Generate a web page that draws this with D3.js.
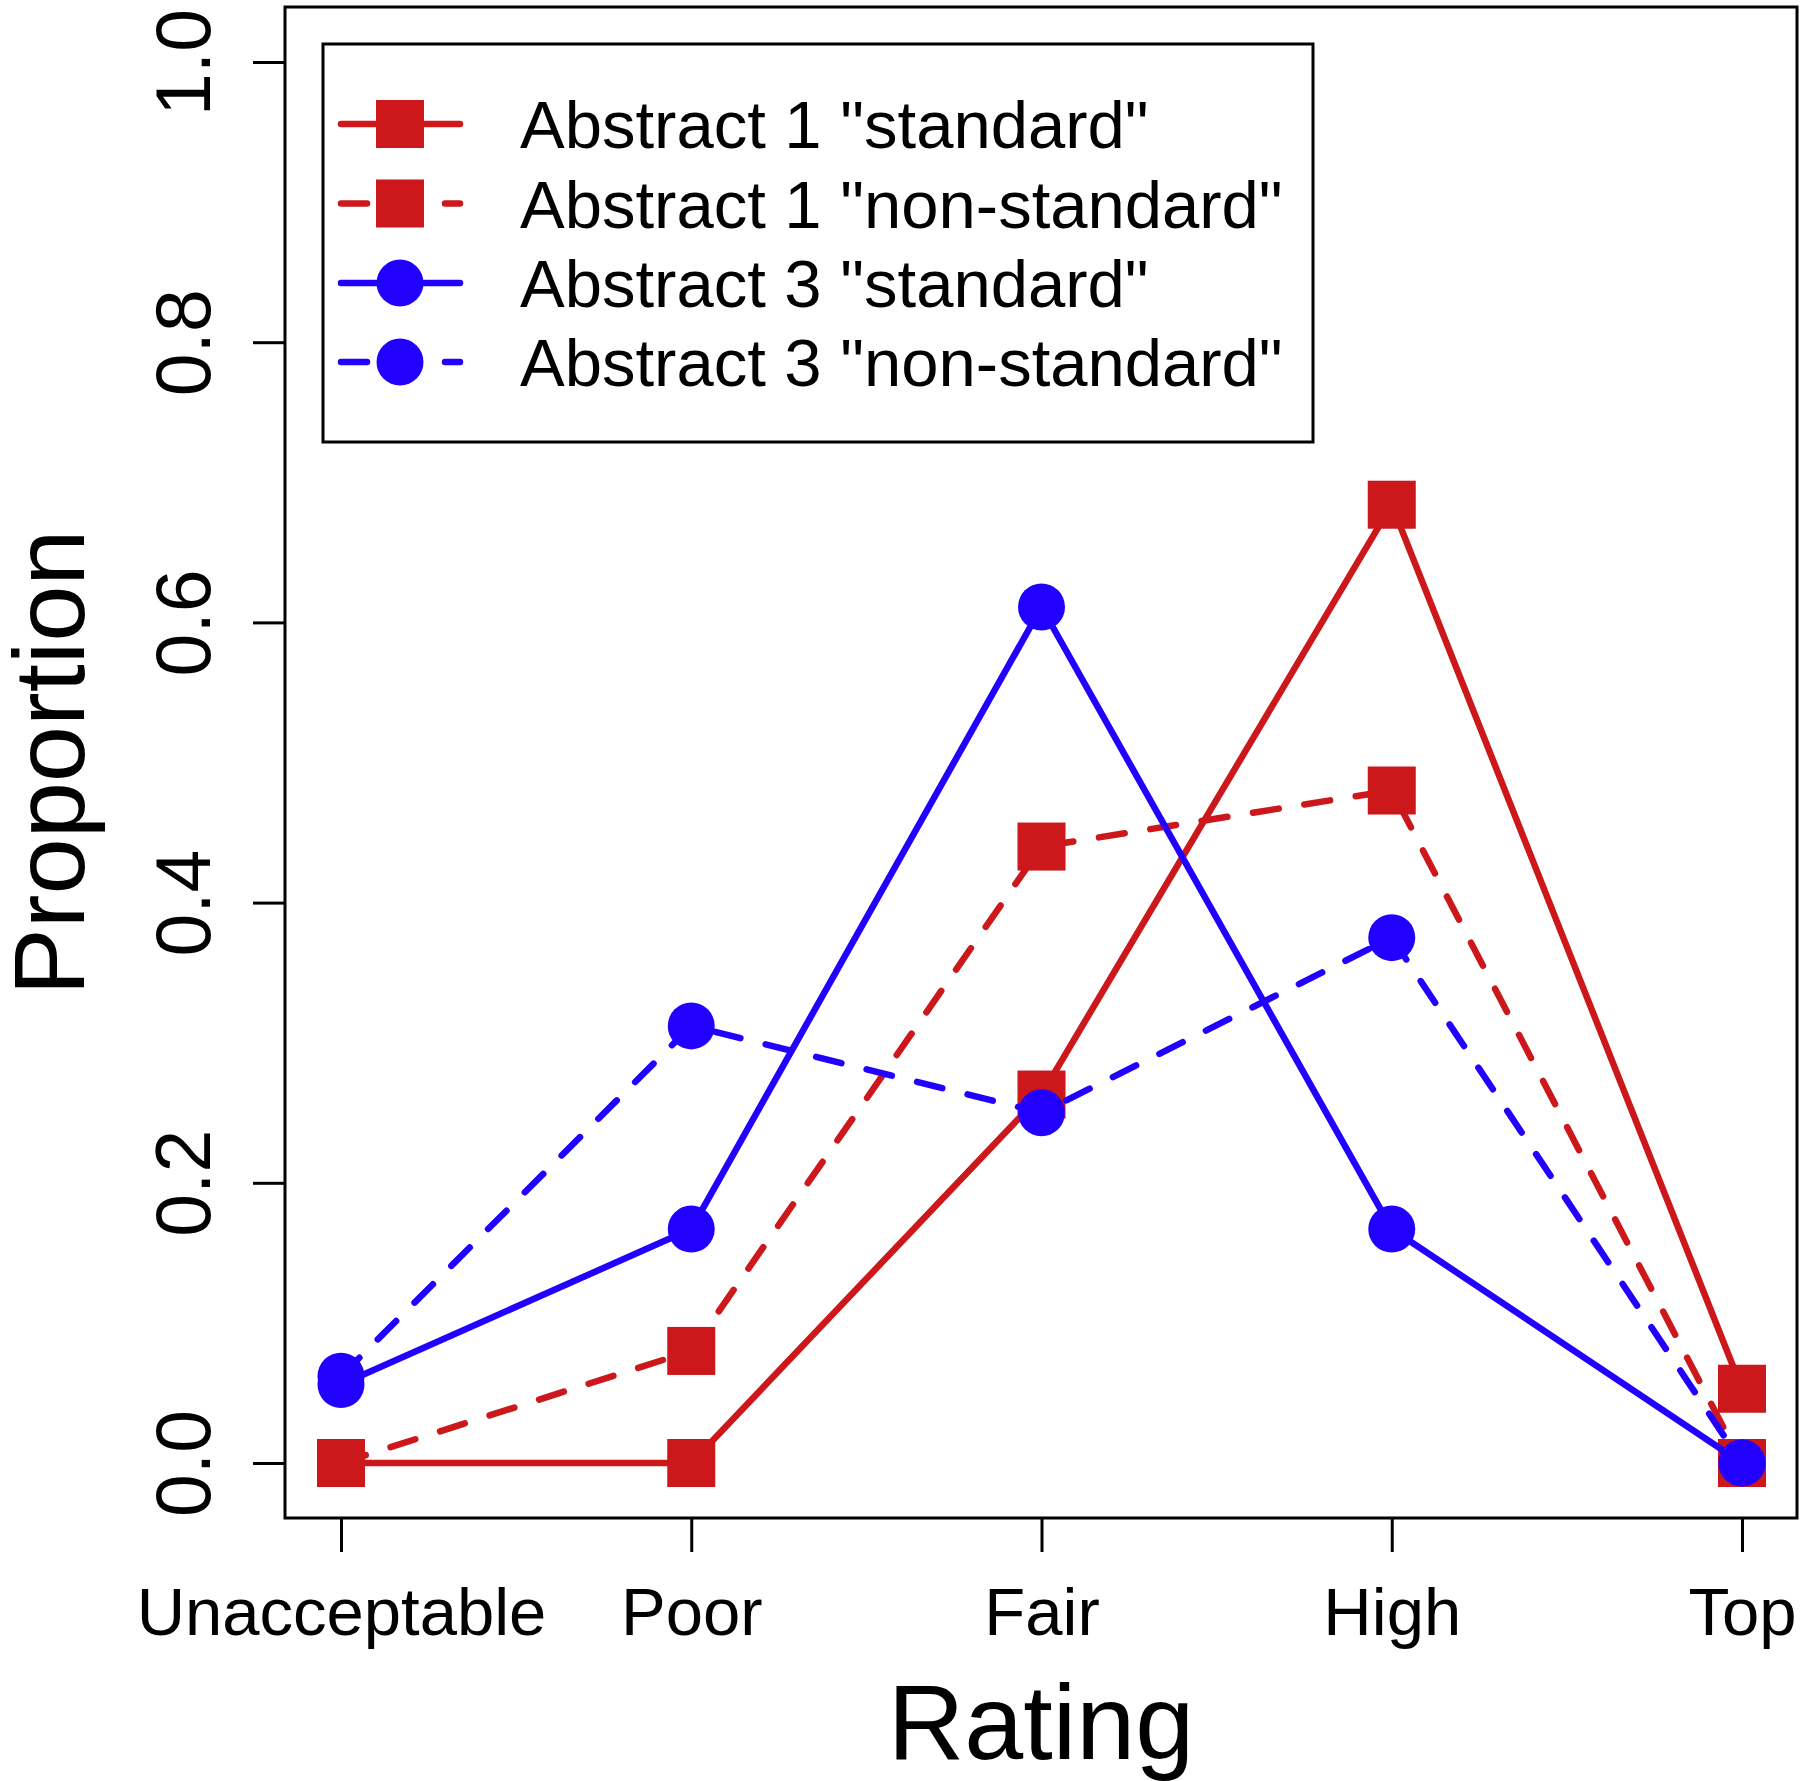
<!DOCTYPE html>
<html>
<head>
<meta charset="utf-8">
<script src="https://cdn.jsdelivr.net/npm/d3@7"></script>
<style>
  html, body { margin: 0; padding: 0; background: #fff; }
  svg { display: block; font-family: "Liberation Sans", Arial, Helvetica, sans-serif; }
</style>
</head>
<body>
<svg id="chart" width="1800" height="1781"></svg>
<script>
// ---- data ----
const categories = ["Unacceptable", "Poor", "Fair", "High", "Top"];
const a1Standard    = [0.000, 0.000, 0.263, 0.684, 0.053];
const a1NonStandard = [0.000, 0.080, 0.440, 0.480, 0.000];
const a3Standard    = [0.056, 0.167, 0.611, 0.167, 0.000];
const a3NonStandard = [0.062, 0.312, 0.250, 0.375, 0.000];
const seriesNames = ['Abstract 1 "standard"', 'Abstract 1 "non-standard"',
                     'Abstract 3 "standard"', 'Abstract 3 "non-standard"'];
const yTicks = [0, 0.2, 0.4, 0.6, 0.8, 1.0];
const xLabel = "Rating";
const yLabel = "Proportion";

const RED = "#CC171B", BLUE = "#2200FF";
const series = [
  { name: seriesNames[0], values: a1Standard,    color: RED,  dashed: false, shape: "square" },
  { name: seriesNames[1], values: a1NonStandard, color: RED,  dashed: true,  shape: "square" },
  { name: seriesNames[2], values: a3Standard,    color: BLUE, dashed: false, shape: "circle" },
  { name: seriesNames[3], values: a3NonStandard, color: BLUE, dashed: true,  shape: "circle" }
];

const svg = d3.select("#chart");
svg.append("rect").attr("width", 1800).attr("height", 1781).attr("fill", "#fff");

const box = { left: 285, top: 7, right: 1797, bottom: 1518 };
const x = d3.scalePoint().domain(categories).range([341, 1742]);
const y = d3.scaleLinear().domain([0, 1]).range([1463, 62]);

const LW = 6.5, DASH = "26,26", SQ = 48, CR = 23.5;

// ---- series ----
const line = d3.line().x((d, i) => x(categories[i])).y(d => y(d));
series.forEach(s => {
  const g = svg.append("g");
  g.append("path")
    .attr("d", line(s.values))
    .attr("fill", "none")
    .attr("stroke", s.color)
    .attr("stroke-width", LW)
    .attr("stroke-linecap", "round")
    .attr("stroke-linejoin", "round")
    .attr("stroke-dasharray", s.dashed ? DASH : null);
  s.values.forEach((v, i) => {
    if (s.shape === "square") {
      g.append("rect")
        .attr("x", x(categories[i]) - SQ / 2).attr("y", y(v) - SQ / 2)
        .attr("width", SQ).attr("height", SQ).attr("fill", s.color);
    } else {
      g.append("circle")
        .attr("cx", x(categories[i])).attr("cy", y(v)).attr("r", CR)
        .attr("fill", s.color);
    }
  });
});

// ---- box ----
svg.append("rect")
  .attr("x", box.left).attr("y", box.top)
  .attr("width", box.right - box.left).attr("height", box.bottom - box.top)
  .attr("fill", "none").attr("stroke", "#000").attr("stroke-width", 3);

// ---- axes ----
const yAxis = svg.append("g")
  .attr("transform", `translate(${box.left},0)`)
  .call(d3.axisLeft(y).tickValues(yTicks).tickSize(32).tickFormat(d3.format(".1f")));
yAxis.select(".domain").remove();
yAxis.selectAll(".tick line").attr("stroke", "#000").attr("stroke-width", 3);
yAxis.selectAll(".tick text")
  .attr("x", null).attr("dy", null)
  .attr("text-anchor", "middle")
  .attr("transform", "translate(-75,0) rotate(-90)")
  .attr("font-size", 77).attr("font-family", null).attr("fill", "#000");

const xAxis = svg.append("g")
  .attr("transform", `translate(0,${box.bottom})`)
  .call(d3.axisBottom(x).tickSize(34));
xAxis.select(".domain").remove();
xAxis.selectAll(".tick line").attr("stroke", "#000").attr("stroke-width", 3);
xAxis.selectAll(".tick text")
  .attr("y", 117).attr("dy", null)
  .attr("font-size", 67).attr("font-family", null).attr("fill", "#000");

// ---- axis titles ----
svg.append("text")
  .attr("x", (box.left + box.right) / 2).attr("y", 1759)
  .attr("text-anchor", "middle").attr("font-size", 106).text(xLabel);
svg.append("text")
  .attr("transform", `translate(84,${(y(0) + y(1)) / 2}) rotate(-90)`)
  .attr("text-anchor", "middle").attr("font-size", 101).text(yLabel);

// ---- legend ----
const lg = svg.append("g");
lg.append("rect")
  .attr("x", 323).attr("y", 44).attr("width", 990).attr("height", 398)
  .attr("fill", "#fff").attr("stroke", "#000").attr("stroke-width", 3);
const rowY = [124, 203.5, 283, 362];
series.forEach((s, i) => {
  const cy = rowY[i];
  lg.append("line")
    .attr("x1", 341).attr("x2", 460).attr("y1", cy).attr("y2", cy)
    .attr("stroke", s.color).attr("stroke-width", LW)
    .attr("stroke-linecap", "round")
    .attr("stroke-dasharray", s.dashed ? DASH : null);
  if (s.shape === "square") {
    lg.append("rect").attr("x", 400 - SQ / 2).attr("y", cy - SQ / 2)
      .attr("width", SQ).attr("height", SQ).attr("fill", s.color);
  } else {
    lg.append("circle").attr("cx", 400).attr("cy", cy).attr("r", CR).attr("fill", s.color);
  }
  lg.append("text")
    .attr("x", 520).attr("y", cy + 24)
    .attr("font-size", 67).attr("fill", "#000").text(s.name);
});
</script>
</body>
</html>
